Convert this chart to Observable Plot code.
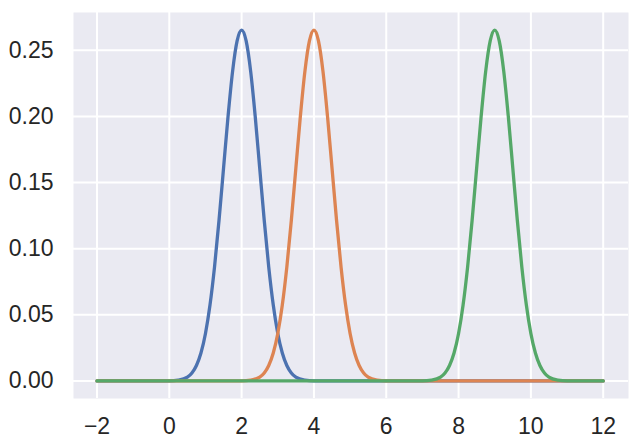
<!DOCTYPE html>
<html>
<head>
<meta charset="utf-8">
<script src="https://cdn.jsdelivr.net/npm/d3@7"></script>
<script src="https://cdn.jsdelivr.net/npm/@observablehq/plot@0.6"></script>
<style>
  html, body { margin: 0; padding: 0; background: #ffffff; }
</style>
</head>
<body>
<div id="chart"></div>
<script>
// Values
const seriesNames = ["series 1", "series 2", "series 3"];
const seriesColors = ["#4C72B0", "#DD8452", "#55A868"];

const blueX = [-2, 0, 0.25, 0.5, 0.625, 0.75, 0.875, 1, 1.125, 1.25, 1.375, 1.5, 1.625, 1.75, 1.875, 2,
  2.125, 2.25, 2.375, 2.5, 2.625, 2.75, 2.875, 3, 3.125, 3.25, 3.375, 3.5, 3.75, 4, 12];
const blueY = [0, 0, 0.0006, 0.0029, 0.0060, 0.0117, 0.0211, 0.0359, 0.0574, 0.0861, 0.1215, 0.1609, 0.2002, 0.2341, 0.2571, 0.2653,
  0.2571, 0.2341, 0.2002, 0.1609, 0.1215, 0.0861, 0.0574, 0.0359, 0.0211, 0.0117, 0.0060, 0.0029, 0.0006, 0, 0];

const orangeX = [-2, 2, 2.25, 2.5, 2.625, 2.75, 2.875, 3, 3.125, 3.25, 3.375, 3.5, 3.625, 3.75, 3.875, 4,
  4.125, 4.25, 4.375, 4.5, 4.625, 4.75, 4.875, 5, 5.125, 5.25, 5.375, 5.5, 5.75, 6, 12];
const orangeY = [0, 0, 0.0006, 0.0029, 0.0060, 0.0117, 0.0211, 0.0359, 0.0574, 0.0861, 0.1215, 0.1609, 0.2002, 0.2341, 0.2571, 0.2653,
  0.2571, 0.2341, 0.2002, 0.1609, 0.1215, 0.0861, 0.0574, 0.0359, 0.0211, 0.0117, 0.0060, 0.0029, 0.0006, 0, 0];

const greenX = [-2, 7, 7.25, 7.5, 7.625, 7.75, 7.875, 8, 8.125, 8.25, 8.375, 8.5, 8.625, 8.75, 8.875, 9,
  9.125, 9.25, 9.375, 9.5, 9.625, 9.75, 9.875, 10, 10.125, 10.25, 10.375, 10.5, 10.75, 11, 12];
const greenY = [0, 0, 0.0006, 0.0029, 0.0060, 0.0117, 0.0211, 0.0359, 0.0574, 0.0861, 0.1215, 0.1609, 0.2002, 0.2341, 0.2571, 0.2653,
  0.2571, 0.2341, 0.2002, 0.1609, 0.1215, 0.0861, 0.0574, 0.0359, 0.0211, 0.0117, 0.0060, 0.0029, 0.0006, 0, 0];

const xTicks = [-2, 0, 2, 4, 6, 8, 10, 12];
const yTicks = [0, 0.05, 0.10, 0.15, 0.20, 0.25];

const xs = [blueX, orangeX, greenX];
const ys = [blueY, orangeY, greenY];
const data = seriesNames.flatMap((name, i) => xs[i].map((x, j) => ({series: name, x, y: ys[i][j]})));

const fmtX = d => d < 0 ? "\u2212" + (-d) : String(d);
const fmtY = d3.format(".2f");

const chart = Plot.plot({
  width: 638,
  height: 446,
  marginLeft: 73,
  marginRight: 10,
  marginTop: 12,
  marginBottom: 48,
  style: {
    fontFamily: "'Liberation Sans', Arial, sans-serif",
    fontSize: "23px",
    color: "#262626",
    background: "#ffffff"
  },
  x: { domain: [-2.65, 12.7], label: null },
  y: { domain: [-0.01327, 0.2786], label: null },
  color: { domain: seriesNames, range: seriesColors },
  marks: [
    Plot.frame({ fill: "#EAEAF2", stroke: null }),
    Plot.gridX(xTicks, { stroke: "#ffffff", strokeOpacity: 1, strokeWidth: 2 }),
    Plot.gridY(yTicks, { stroke: "#ffffff", strokeOpacity: 1, strokeWidth: 2 }),
    Plot.line(data, { x: "x", y: "y", z: "series", stroke: "series", strokeWidth: 3.3, curve: "monotone-x" }),
    Plot.axisX({ ticks: xTicks, tickFormat: fmtX, tickSize: 0, tickPadding: 19, label: null, fontSize: 23, fill: "#262626" }),
    Plot.axisY({ ticks: yTicks, tickFormat: fmtY, tickSize: 0, tickPadding: 20, label: null, fontSize: 23, fill: "#262626" })
  ]
});
document.getElementById("chart").appendChild(chart);
</script>
</body>
</html>
